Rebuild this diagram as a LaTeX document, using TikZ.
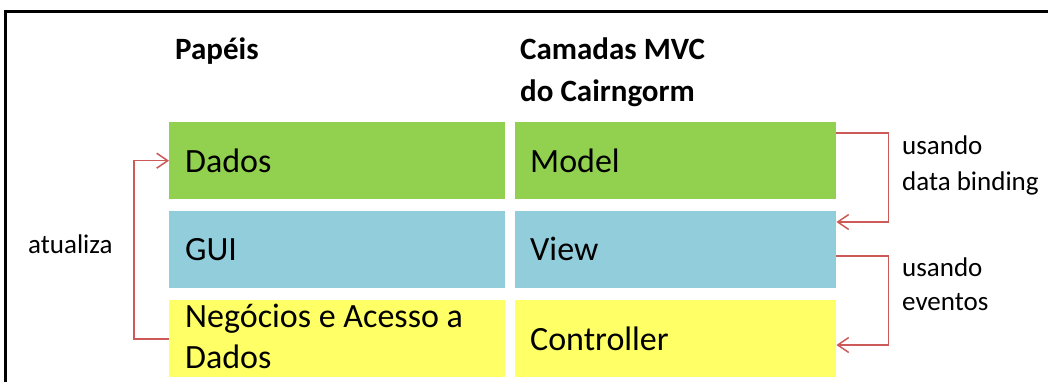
\documentclass[tikz,border=0pt]{standalone}
\usepackage{fontspec}
\setmainfont{Carlito}
\usetikzlibrary{arrows.meta}
\definecolor{boxgreen}{RGB}{146,208,80}
\definecolor{boxblue}{RGB}{146,205,220}
\definecolor{boxyellow}{RGB}{255,255,102}
\definecolor{connred}{RGB}{204,90,88}
\begin{document}
\begin{tikzpicture}[x=1pt,y=-1pt,
  box/.style={draw=none, inner sep=0pt, anchor=north west, minimum height=77pt},
  lbox/.style={box, minimum width=336pt},
  rbox/.style={box, minimum width=321pt},
  title/.style={anchor=base west, inner sep=0pt, font=\fontsize{31}{36}\selectfont\bfseries},
  boxtext/.style={anchor=base west, inner sep=0pt, font=\fontsize{34}{40}\selectfont},
  lab/.style={anchor=base west, inner sep=0pt, font=\fontsize{27}{33}\selectfont},
  conn/.style={draw=connred, line width=1.6pt, -{Straight Barb[length=11pt,width=15pt,line width=1.5pt]}}
]
\useasboundingbox (0,0) rectangle (1048,382);
\fill[white] (0,0) rectangle (1048,382);
\draw[line width=3pt] (5,383) -- (5,12) -- (1049,12);

% titles
\node[title] (t1) at (175,60) {Papéis};
\node[title] (t2) at (520,60) {Camadas MVC};
\node[title] (t3) at (520,102) {do Cairngorm};

% boxes
\node[lbox, fill=boxgreen] (dados) at (169,122) {};
\node[lbox, fill=boxblue] (gui) at (169,211) {};
\node[lbox, fill=boxyellow] (neg) at (169,300) {};
\node[rbox, fill=boxgreen] (model) at (515,122) {};
\node[rbox, fill=boxblue] (view) at (515,211) {};
\node[rbox, fill=boxyellow] (ctrl) at (515,300) {};

% box texts
\node[boxtext] (x1) at (185,172) {Dados};
\node[boxtext] (x2) at (185,260) {GUI};
\node[boxtext] (x3) at (185,327) {Negócios e Acesso a};
\node[boxtext] (x4) at (185,368) {Dados};
\node[boxtext] (x5) at (530,172) {Model};
\node[boxtext] (x6) at (530,260) {View};
\node[boxtext] (x7) at (530,350) {Controller};

% labels
\node[lab] (l1) at (28,253) {atualiza};
\node[lab] (l2) at (902,155) {usando};
\node[lab] (l3) at (902,190) {data binding};
\node[lab] (l4) at (902,276) {usando};
\node[lab] (l5) at (902,310) {eventos};

% connectors
\draw[conn] (neg.west) -- ++(-35,0) |- (dados.west);
\draw[conn] ([yshift=-11pt]model.north east) -- ++(52,0) |- ([yshift=-11pt]view.north east);
\draw[conn] ([yshift=-45pt]view.north east) -- ++(52,0) |- ([yshift=-45pt]ctrl.north east);
\end{tikzpicture}
\end{document}
